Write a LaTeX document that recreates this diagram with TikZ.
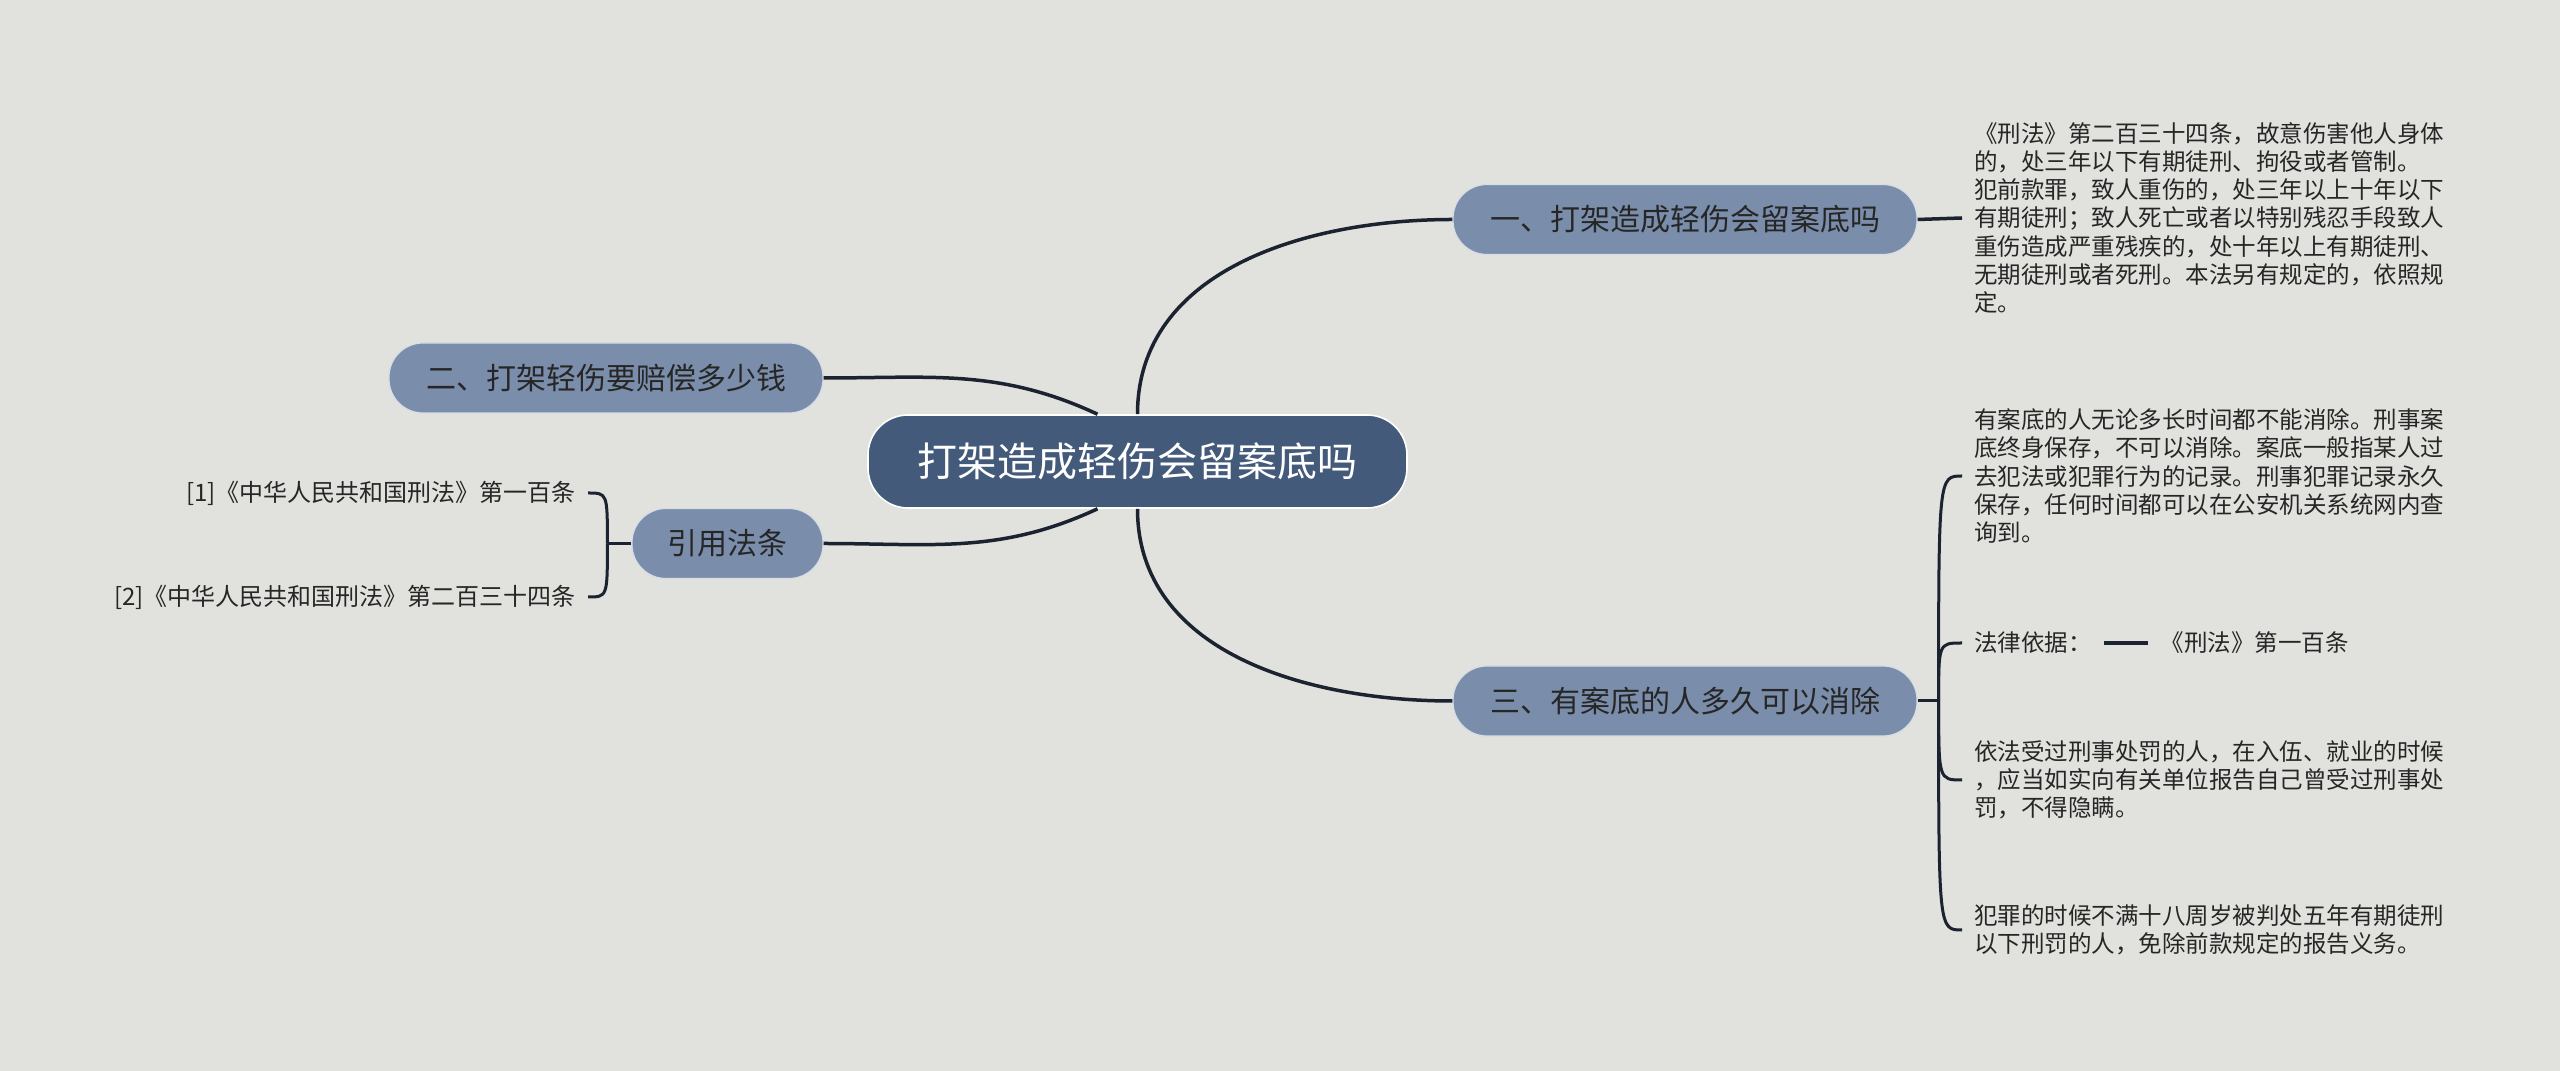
\documentclass[tikz,border=0pt]{standalone}
\usepackage{fontspec}
\setmainfont{Noto Sans CJK SC}
\usepackage{xcolor}
\usepackage{tikz}
\usetikzlibrary{positioning}

\definecolor{bgcol}{HTML}{E1E2DE}
\definecolor{rootcol}{HTML}{435A7A}
\definecolor{topiccol}{HTML}{7A8DAA}
\definecolor{linecol}{HTML}{1B2330}
\definecolor{textcol}{HTML}{262626}

\begin{document}
\begin{tikzpicture}[x=0.5pt, y=0.5pt,
	root/.style={rounded corners=20pt, fill=rootcol, draw=white, line width=0.8pt, text=white, minimum width=269.5pt, minimum height=46.5pt, inner sep=0pt, font=\fontsize{20}{24}\selectfont},
	topic/.style={rounded corners=17pt, fill=topiccol, draw=white!70!topiccol, line width=0.6pt, text=textcol, minimum height=35pt, inner sep=0pt, font=\fontsize{15}{18}\selectfont},
	leaf/.style={text=textcol, inner sep=6pt, align=left, font=\fontsize{11.75}{14.15}\selectfont},
	cite/.style={leaf, font=\fontsize{12}{14.4}\selectfont},
	link/.style={draw=linecol, line width=1.75pt},
	brace/.style={draw=linecol, line width=1.5pt}]
			\fill[bgcol] (0,0) rectangle (2560,1071);
			\useasboundingbox (0,0) rectangle (2560,1071);

			\node[root] (root) at (1137.5,609.5) {打架造成轻伤会留案底吗};
			\node[topic, minimum width=232pt] (t1) at (1685,851.5) {一、打架造成轻伤会留案底吗};
			\node[topic, minimum width=217pt] (t2) at (606,693) {二、打架轻伤要赔偿多少钱};
			\node[topic, minimum width=232pt] (t3) at (1685,370) {三、有案底的人多久可以消除};
			\node[topic, minimum width=95.5pt] (law) at (727.5,527.5) {引用法条};

			\node[cite, anchor=east] (c1) at (588,578) {[1]《中华人民共和国刑法》第一百条};
			\node[cite, anchor=east] (c2) at (588,474) {[2]《中华人民共和国刑法》第二百三十四条};

			\node[leaf, anchor=west] (d1) at (1962,853) {《刑法》第二百三十四条，故意伤害他人身体\\的，处三年以下有期徒刑、拘役或者管制。\\犯前款罪，致人重伤的，处三年以上十年以下\\有期徒刑；致人死亡或者以特别残忍手段致人\\重伤造成严重残疾的，处十年以上有期徒刑、\\无期徒刑或者死刑。本法另有规定的，依照规\\定。};
			\node[leaf, anchor=west] (d2) at (1962,595) {有案底的人无论多长时间都不能消除。刑事案\\底终身保存，不可以消除。案底一般指某人过\\去犯法或犯罪行为的记录。刑事犯罪记录永久\\保存，任何时间都可以在公安机关系统网内查\\询到。};
			\node[leaf, anchor=west] (d3) at (1962,428) {法律依据：};
			\node[leaf, right=22pt of d3] (d3a) {《刑法》第一百条};
			\node[leaf, anchor=west] (d4) at (1962,291) {依法受过刑事处罚的人，在入伍、就业的时候\\，应当如实向有关单位报告自己曾受过刑事处\\罚，不得隐瞒。};
			\node[leaf, anchor=west] (d5) at (1962,141) {犯罪的时候不满十八周岁被判处五年有期徒刑\\以下刑罚的人，免除前款规定的报告义务。};

			\coordinate[left=12pt of law] (jl);
			\coordinate[right=10.5pt of t3] (jr);

			\draw[link] (root.north) to[out=90, in=180] (t1.west);
			\draw[link] (root.south) to[out=-90, in=180] (t3.west);
			\draw[link] (t2.east) to[out=0, in=155] ([xshift=-20pt]root.north);
			\draw[link] (law.east) to[out=0, in=-155] ([xshift=-20pt]root.south);
			\draw[link] (t1.east) -- (d1.west);

			\draw[brace] (law.west) -- (jl);
			\draw[brace] (jl) .. controls (jl |- c1.east) .. (c1.east);
			\draw[brace] (jl) .. controls (jl |- c2.east) .. (c2.east);
			\draw[brace] (t3.east) -- (jr);
			\foreach \d in {d2,d3,d4,d5}
				\draw[brace] (jr) .. controls (jr |- \d.west) .. (\d.west);
			\draw[link] (d3.east) -- (d3a.west);
		\end{tikzpicture}
\end{document}
